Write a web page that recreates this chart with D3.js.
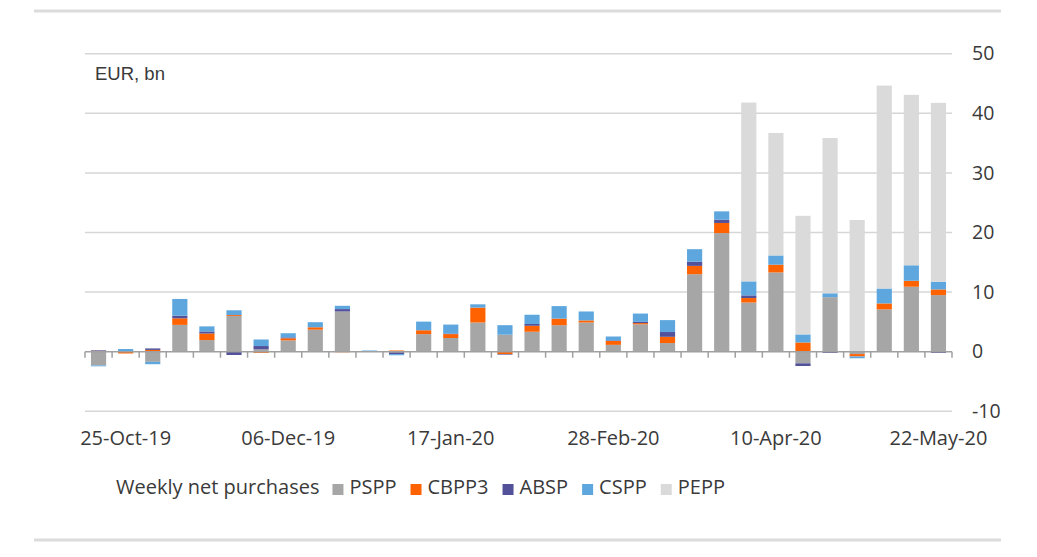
<!DOCTYPE html>
<html>
<head>
<meta charset="utf-8">
<script src="https://cdn.jsdelivr.net/npm/d3@7"></script>
<style>
  body { margin: 0; background: #fff; }
  text { fill: #3a3a3a; }
</style>
</head>
<body>
<script>

var width = 1037
var height = 557

// weekly data, EUR bn
var weeks = ["18-Oct-19", "25-Oct-19", "01-Nov-19", "08-Nov-19", "15-Nov-19", "22-Nov-19", "29-Nov-19", "06-Dec-19",
             "13-Dec-19", "20-Dec-19", "27-Dec-19", "03-Jan-20", "10-Jan-20", "17-Jan-20", "24-Jan-20", "31-Jan-20",
             "07-Feb-20", "14-Feb-20", "21-Feb-20", "28-Feb-20", "06-Mar-20", "13-Mar-20", "20-Mar-20", "27-Mar-20",
             "03-Apr-20", "10-Apr-20", "17-Apr-20", "24-Apr-20", "01-May-20", "08-May-20", "15-May-20", "22-May-20"]

var tickLabels = ["25-Oct-19", "06-Dec-19", "17-Jan-20", "28-Feb-20", "10-Apr-20", "22-May-20"]
var yTicks = [-10, 0, 10, 20, 30, 40, 50]

var pspp  = [-2.3, 0.05, -1.7, 4.5, 1.95, 6.0, 0.4, 1.9, 3.7, 6.75, 0.05, -0.1, 2.95, 2.3, 4.9, 2.85,
             3.35, 4.45, 4.9, 1.15, 4.6, 1.45, 13.0, 19.9, 8.25, 13.3, -1.95, 9.15, -0.4, 7.1, 10.9, 9.5]
var cbpp3 = [0.15, -0.3, 0.3, 1.1, 1.1, 0.15, -0.2, 0.35, 0.4, -0.1, 0, 0.2, 0.65, 0.65, 2.5, -0.4,
             1.0, 1.1, 0.35, 0.65, 0.2, 1.05, 1.4, 1.7, 0.75, 1.3, 1.55, 0, -0.4, 1.0, 1.0, 0.95]
var absp  = [0.1, 0, 0.25, 0.45, 0.35, -0.55, 0.55, 0.15, 0, 0.4, -0.05, -0.3, 0, 0.1, 0, -0.1,
             0.3, 0, 0, 0.1, 0.2, 0.8, 0.7, 0.55, 0.45, 0, -0.45, -0.2, 0, 0, 0, -0.2]
var cspp  = [-0.15, 0.4, -0.4, 2.8, 0.85, 0.8, 1.1, 0.7, 0.85, 0.55, 0.15, -0.2, 1.45, 1.5, 0.55, 1.6,
             1.55, 2.1, 1.5, 0.65, 1.4, 2.0, 2.1, 1.4, 2.35, 1.55, 1.35, 0.65, -0.3, 2.5, 2.6, 1.3]
var pepp  = [0, 0, 0, 0, 0, 0, 0, 0, 0, 0, 0, 0, 0, 0, 0, 0,
             0, 0, 0, 0, 0, 0, 0, 0, 30.0, 20.55, 19.9, 26.05, 22.1, 34.05, 28.6, 30.0]

var seriesNames = ["PSPP", "CBPP3", "ABSP", "CSPP", "PEPP"]
var colors = {PSPP: "#a6a6a6", CBPP3: "#ff6200", ABSP: "#525199", CSPP: "#5ea7de", PEPP: "#dadada"}

var table = weeks.map(function(w, i){
  return {week: w, PSPP: pspp[i], CBPP3: cbpp3[i], ABSP: absp[i], CSPP: cspp[i], PEPP: pepp[i]}
})

var svg = d3.select("body")
            .append("svg")
            .attr("width", width)
            .attr("height", height)
            .style("font-family", "'Open Sans', sans-serif")

// frame lines top and bottom
svg.append("line").attr("x1", 34).attr("x2", 1001).attr("y1", 11).attr("y2", 11)
   .attr("stroke", "#dcdcdc").attr("stroke-width", 3)
svg.append("line").attr("x1", 34).attr("x2", 1001).attr("y1", 540).attr("y2", 540)
   .attr("stroke", "#dcdcdc").attr("stroke-width", 3)

var left = 85, right = 952

var x = d3.scaleBand().domain(weeks).range([left, right]).paddingInner(0.44).paddingOuter(0.22)
var y = d3.scaleLinear().domain([-10, 50]).range([411.3, 53.7])

// gridlines
svg.append("g").selectAll("line.grid")
  .data(yTicks.filter(function(d){ return d !== 0 }))
  .enter().append("line")
  .attr("x1", left).attr("x2", right)
  .attr("y1", function(d){ return y(d) }).attr("y2", function(d){ return y(d) })
  .attr("stroke", "#d6d6d6").attr("stroke-width", 1.5)

// stacked bars
var stack = d3.stack().keys(seriesNames).offset(d3.stackOffsetDiverging)
var layers = stack(table)

svg.append("g").selectAll("g.layer")
  .data(layers)
  .enter().append("g")
  .attr("fill", function(d){ return colors[d.key] })
  .selectAll("rect")
  .data(function(d){ return d })
  .enter().append("rect")
  .attr("x", function(d){ return x(d.data.week) })
  .attr("width", x.bandwidth())
  .attr("y", function(d){ return y(Math.max(d[0], d[1])) })
  .attr("height", function(d){ return Math.abs(y(d[0]) - y(d[1])) })

// zero axis with ticks at band boundaries
var step = x.step()
var boundaries = d3.range(weeks.length + 1).map(function(i){ return left + i * step })
var axis = svg.append("g")
axis.append("line").attr("x1", left).attr("x2", right).attr("y1", y(0)).attr("y2", y(0))
    .attr("stroke", "#a0a0a0").attr("stroke-width", 1.5)
axis.selectAll("line.tick")
  .data(boundaries)
  .enter().append("line")
  .attr("x1", function(d){ return d }).attr("x2", function(d){ return d })
  .attr("y1", y(0)).attr("y2", y(0) + 6)
  .attr("stroke", "#a0a0a0").attr("stroke-width", 1.5)

// x labels
svg.append("g").selectAll("text")
  .data(tickLabels)
  .enter().append("text")
  .attr("x", function(d){ return x(d) + x.bandwidth() / 2 })
  .attr("y", 445)
  .attr("text-anchor", "middle")
  .attr("font-size", 20)
  .text(function(d){ return d })

// right y axis labels
var yAxis = svg.append("g")
  .attr("transform", "translate(" + right + ",0)")
  .call(d3.axisRight(y).tickValues(yTicks).tickSize(0).tickPadding(20)
          .tickFormat(function(d){ return String(d) }))
yAxis.select(".domain").remove()
yAxis.selectAll("text").attr("font-size", 19.5).attr("font-family", "'Open Sans', sans-serif")
     .attr("fill", "#3a3a3a")

// unit label
svg.append("text")
  .attr("x", 95).attr("y", 80)
  .attr("font-family", "'Liberation Sans', Arial, sans-serif")
  .attr("font-size", 18.5)
  .text("EUR, bn")

// legend
var legend = svg.append("g")
var lx = 116, ly = 494
var title = legend.append("text").attr("x", lx).attr("y", ly).attr("font-size", 20).text("Weekly net purchases")
lx += title.node().getComputedTextLength() + 13

seriesNames.forEach(function(name){
  legend.append("rect").attr("x", lx).attr("y", ly - 10).attr("width", 11).attr("height", 11)
        .attr("fill", colors[name])
  var t = legend.append("text").attr("x", lx + 17).attr("y", ly).attr("font-size", 20).text(name)
  lx += 17 + t.node().getComputedTextLength() + 14
})

</script>
</body>
</html>
